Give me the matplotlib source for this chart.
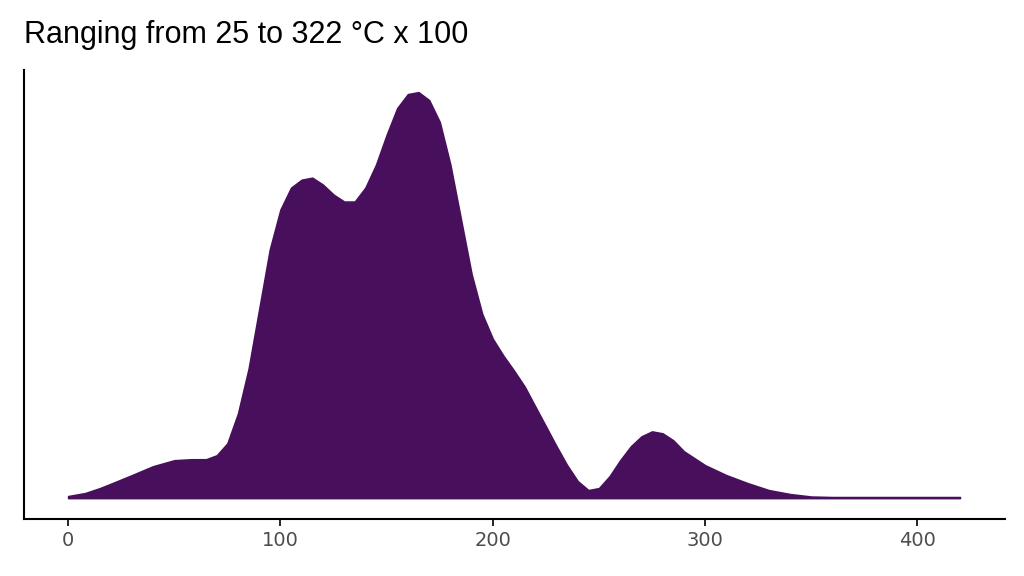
import matplotlib.pyplot as plt
import numpy as np

temp = [0, 8, 15, 22, 30, 40, 50, 58, 65, 70, 75, 80, 85, 90, 95, 100, 105, 110, 115, 120, 125, 130, 135, 140, 145, 150, 155, 160, 165, 170, 175, 180, 185, 190, 195, 200, 205, 210, 215, 220, 225, 230, 235, 240, 245, 250, 255, 260, 265, 270, 275, 280, 285, 290, 300, 310, 320, 330, 340, 350, 360, 380, 400, 420]
density = [2, 5, 10, 16, 23, 32, 38, 39, 39, 43, 55, 85, 130, 190, 250, 290, 312, 320, 322, 315, 305, 298, 298, 312, 335, 365, 392, 406, 408, 400, 378, 335, 280, 225, 185, 160, 143, 128, 112, 92, 72, 52, 33, 17, 8, 10, 22, 38, 52, 62, 67, 65, 58, 47, 33, 23, 15, 8, 4, 1.5, 1, 1, 1, 1]

fig = plt.figure(figsize=(10.24, 5.76), dpi=100)
ax = fig.add_axes([0.023, 0.099, 0.958, 0.779])
ax.fill_between(temp, density, 0, color='#480F5C', linewidth=1.2, edgecolor='#480F5C')
ax.set_xlim(-21, 441)
ax.set_ylim(-21, 430)
ax.set_xticks([0, 100, 200, 300, 400])
ax.set_yticks([])
for s in ['top', 'right']:
    ax.spines[s].set_visible(False)
for s in ['left', 'bottom']:
    ax.spines[s].set_linewidth(1.5)
ax.tick_params(axis='x', labelsize=14, colors='#4d4d4d', length=5, width=1.2)
ax.tick_params(axis='x', color='black')
fig.text(0.023, 0.925, 'Ranging from 25 to 322 °C x 100', fontsize=22, family='Liberation Sans')
fig.savefig('out.png')
